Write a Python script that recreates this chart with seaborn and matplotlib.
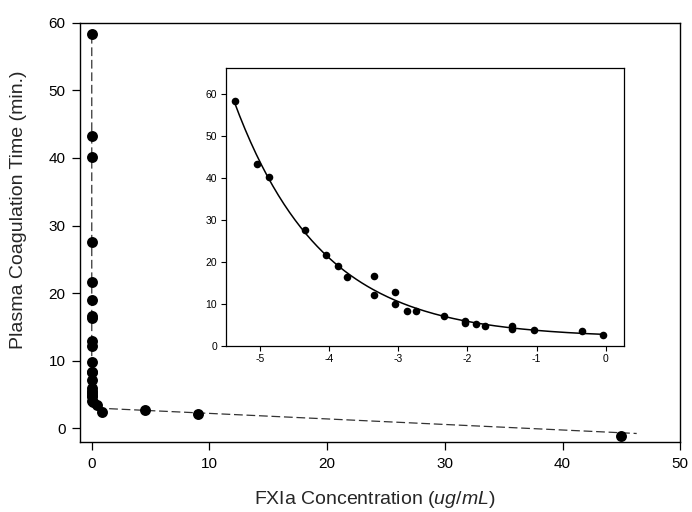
import numpy as np
import pandas as pd
import matplotlib
matplotlib.use("Agg")
import matplotlib.pyplot as plt
import seaborn as sns

# ---- data ----
log_conc = [-5.36, -5.05, -4.87, -4.35, -4.05, -3.87, -3.75, -3.35, -3.35,
            -3.05, -3.05, -2.87, -2.74, -2.34, -2.04, -2.04, -1.87, -1.74,
            -1.35, -1.35, -1.04, -0.34, -0.04]
coag_time = [58.3, 43.3, 40.2, 27.5, 21.7, 19.0, 16.4, 16.6, 12.2,
             12.9, 9.9, 8.4, 8.3, 7.2, 6.0, 5.5, 5.2, 4.8,
             4.8, 4.0, 3.9, 3.5, 2.5]
high_conc = [4.5, 9.0, 45.0]
high_time = [2.7, 2.1, -1.15]
# dashed guide curve drawn in the main panel
guide_x = [0.0, 0.0, 0.15, 0.6, 46.3]
guide_y = [58.2, 4.5, 3.3, 3.0, -0.74]

main_xticks = [0, 10, 20, 30, 40, 50]
main_yticks = [0, 10, 20, 30, 40, 50, 60]
inset_xticks = [-5, -4, -3, -2, -1, 0]
inset_yticks = [0, 10, 20, 30, 40, 50, 60]

# ---- figure ----
sns.set_theme(style="ticks")
plt.rcParams['font.family'] = ['Liberation Sans', 'DejaVu Sans']
plt.rcParams['mathtext.fontset'] = 'custom'
plt.rcParams['mathtext.rm'] = 'Liberation Sans'
plt.rcParams['mathtext.it'] = 'Liberation Sans:italic'
plt.rcParams['axes.unicode_minus'] = False

fig = plt.figure(figsize=(6.92, 5.12), dpi=100)
ax = fig.add_axes([0.1156, 0.1367, 0.983 - 0.1156, 0.9557 - 0.1367])

main_df = pd.DataFrame({
    "conc": list(10 ** np.array(log_conc)) + high_conc,
    "time": coag_time + high_time,
})
guide_df = pd.DataFrame({"x": guide_x, "y": guide_y})

sns.lineplot(data=guide_df, x="x", y="y", sort=False, ax=ax, color="#333333",
             lw=0.9, estimator=None)
ax.lines[-1].set_dashes([7, 3])
sns.scatterplot(data=main_df, x="conc", y="time", ax=ax, color="black",
                s=62, linewidth=0, zorder=3)

ax.set_xlim(-1, 50)
ax.set_ylim(-2, 60)
ax.set_xticks(main_xticks)
ax.set_yticks(main_yticks)
ax.tick_params(direction="out", length=6, width=0.9, labelsize=11, colors="black", pad=4.5)
for sp in ax.spines.values():
    sp.set_visible(True)
    sp.set_linewidth(1.0)
    sp.set_color("black")
ax.set_xlabel("FXIa Concentration ($\\it{ug/mL}$)", fontsize=14)
ax.set_ylabel("Plasma Coagulation Time (min.)", fontsize=14)
ax.xaxis.set_label_coords(0.491, -0.112)
ax.yaxis.set_label_coords(-0.089, 0.553)

# ---- inset ----
ins = fig.add_axes([0.326, 0.3242, 0.9013 - 0.326, 0.8666 - 0.3242])
inset_df = pd.DataFrame({"logc": log_conc, "time": coag_time})

# exponential decay fit: time = y0 + a*exp(-b*(logc+5))
lx = np.array(log_conc)
ty = np.array(coag_time)
best = None
for b in np.linspace(0.2, 2.0, 901):
    A = np.column_stack([np.ones_like(lx), np.exp(-b * (lx + 5))])
    coef, *_ = np.linalg.lstsq(A, ty, rcond=None)
    err = np.sum((A @ coef - ty) ** 2)
    if best is None or err < best[0]:
        best = (err, b, coef)
_, bb, cc = best
fx = np.linspace(min(log_conc) - 0.02, max(log_conc), 200)
fit_df = pd.DataFrame({"x": fx, "y": cc[0] + cc[1] * np.exp(-bb * (fx + 5))})

sns.lineplot(data=fit_df, x="x", y="y", ax=ins, color="black", lw=1.1)
sns.scatterplot(data=inset_df, x="logc", y="time", ax=ins, color="black",
                s=30, linewidth=0, zorder=3)
ins.set_xlim(-5.5, 0.26)
ins.set_ylim(0, 66)
ins.set_xticks(inset_xticks)
ins.set_yticks(inset_yticks)
ins.tick_params(direction="out", length=3.5, width=0.8, labelsize=7.5, colors="black", pad=2.5)
for sp in ins.spines.values():
    sp.set_visible(True)
    sp.set_linewidth(0.9)
    sp.set_color("black")
ins.set_xlabel("")
ins.set_ylabel("")

fig.savefig("out.png", dpi=100)
